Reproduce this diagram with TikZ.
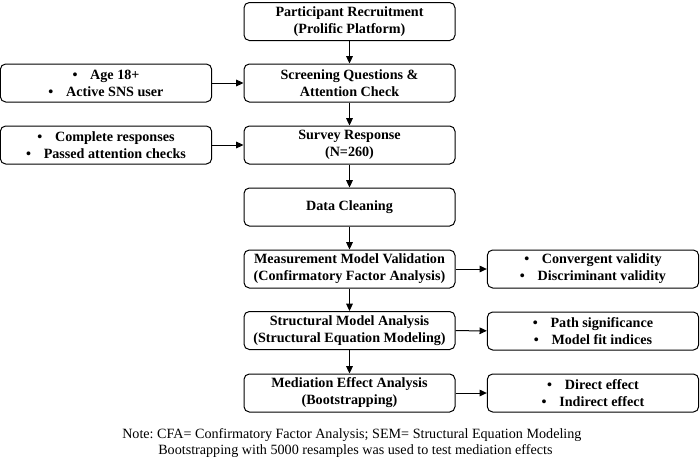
\documentclass[tikz,border=0pt]{standalone}
\usepackage{fontspec}
\setmainfont{Liberation Serif}
\usetikzlibrary{arrows.meta}
\frenchspacing

\begin{document}
\begin{tikzpicture}[x=0.75pt,y=0.75pt,yscale=-1,xscale=1,
  stepbox/.style={draw, line width=0.75pt, rounded corners=4pt, minimum width=158.25pt, minimum height=28.5pt, inner sep=0pt, align=center, font=\fontsize{10.6}{12.75}\selectfont\bfseries},
  sidebox/.style={stepbox, minimum width=158.5pt},
  flow/.style={line width=0.75pt, -{Triangle[length=5.5pt,width=5pt]}}]
%set diagram area, 700 by 457
\path[use as bounding box] (0,0) rectangle (700,457);

% Main steps
\node [stepbox] (recruit) at (349.5,21.5) {Participant Recruitment\\(Prolific Platform)};
\node [stepbox] (screen) at (349.5,83) {Screening Questions \&\\Attention Check};
\node [stepbox] (survey) at (349.5,145) {Survey Response\\(N=260)};
\node [stepbox] (clean) at (349.5,207) {Data Cleaning};
\node [stepbox] (measure) at (349.5,269) {Measurement Model Validation\\(Confirmatory Factor Analysis)};
\node [stepbox] (struct) at (349.5,330.5) {Structural Model Analysis\\(Structural Equation Modeling)};
\node [stepbox] (mediate) at (349.5,393) {Mediation Effect Analysis\\(Bootstrapping)};

% Side boxes
\node [sidebox] (criteria) at (106,83) {•\hspace{0.9em}Age 18+\\•\hspace{0.9em}Active SNS user};
\node [sidebox] (valid) at (106,145) {•\hspace{0.9em}Complete responses\\•\hspace{0.9em}Passed attention checks};
\node [sidebox] (cfaout) at (593,269) {•\hspace{0.9em}Convergent validity\\•\hspace{0.9em}Discriminant validity};
\node [sidebox] (semout) at (593,331) {•\hspace{0.9em}Path significance\\•\hspace{0.9em}Model fit indices};
\node [sidebox] (medout) at (593,393) {•\hspace{0.9em}Direct effect\\•\hspace{0.9em}Indirect effect};

% Arrows
\draw [flow] (recruit) -- (screen);
\draw [flow] (screen) -- (survey);
\draw [flow] (survey) -- (clean);
\draw [flow] (clean) -- (measure);
\draw [flow] (measure) -- (struct);
\draw [flow] (struct) -- (mediate);
\draw [flow] (criteria) -- (screen);
\draw [flow] (valid) -- (survey);
\draw [flow] (measure) -- (cfaout);
\draw [flow] (struct) -- (semout);
\draw [flow] (mediate) -- (medout);

% Text Node
\node [anchor=west, inner sep=0pt, align=left, font=\fontsize{10.6}{12}\selectfont] (note) at (122,443.5) {Note: CFA= Confirmatory Factor Analysis; SEM= Structural Equation Modeling\\\hspace{27pt}Bootstrapping with 5000 resamples was used to test mediation effects};

\end{tikzpicture}
\end{document}
